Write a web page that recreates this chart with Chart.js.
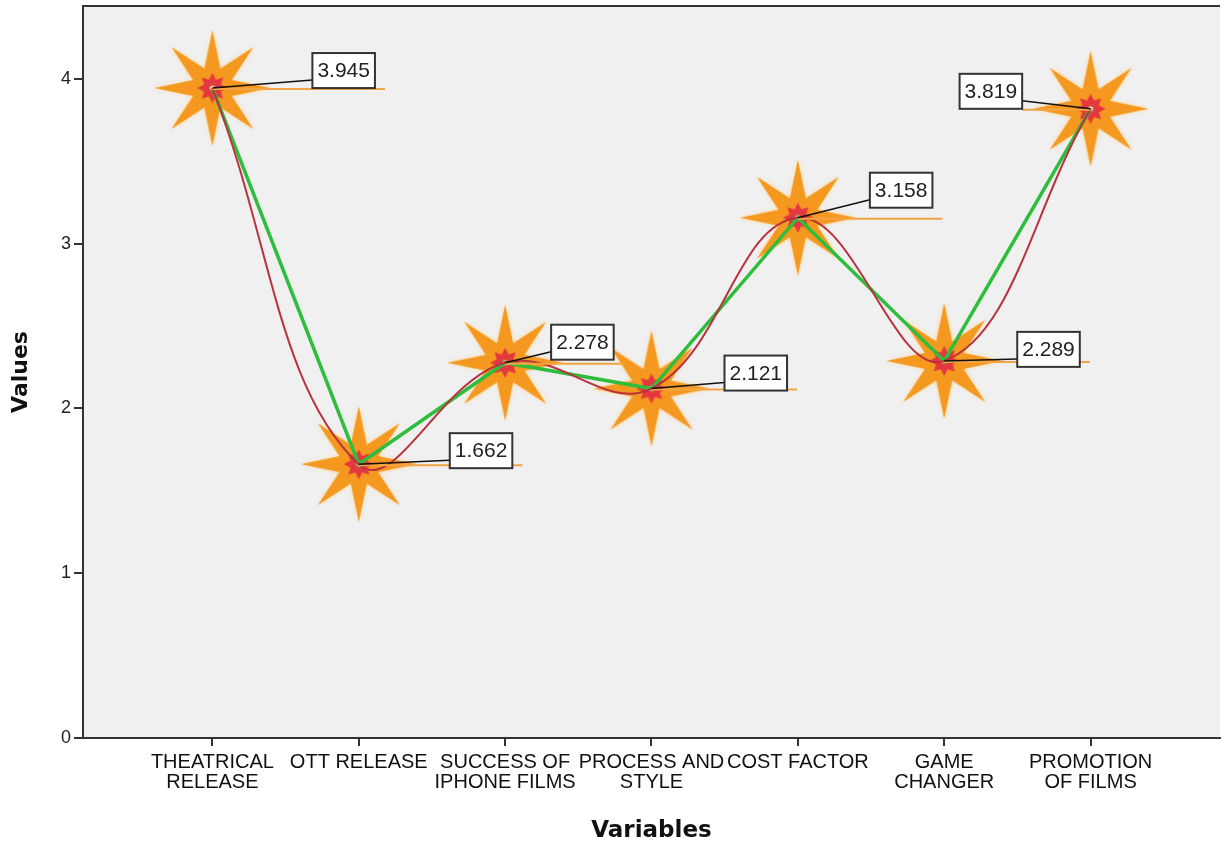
<!DOCTYPE html>
<html>
<head>
<meta charset="utf-8">
<script src="https://cdn.jsdelivr.net/npm/chart.js@4.4.1/dist/chart.umd.min.js"></script>
<style>
  body { margin: 0; background: #fff; }
  #chart { display: block; }
</style>
</head>
<body>
<canvas id="chart" width="1225" height="847"></canvas>
<script>
// data
const categories = [
  ['THEATRICAL', 'RELEASE'],
  'OTT RELEASE',
  ['SUCCESS OF', 'IPHONE FILMS'],
  ['PROCESS AND', 'STYLE'],
  'COST FACTOR',
  ['GAME', 'CHANGER'],
  ['PROMOTION', 'OF FILMS']
];
const values = [3.945, 1.662, 2.278, 2.121, 3.158, 2.289, 3.819];
const yTicks = [0, 1, 2, 3, 4];

const points = values.map((v, i) => ({ x: i, y: v }));

// star marker used as the point image
function makeStar() {
  const c = document.createElement('canvas');
  c.width = 140; c.height = 140;
  const g = c.getContext('2d');
  const cx = 70, cy = 70;
  function star(n, rOut, rIn) {
    g.beginPath();
    for (let k = 0; k < n * 2; k++) {
      const r = k % 2 === 0 ? rOut : rIn;
      const a = k * Math.PI / n - Math.PI / 2;
      const px = cx + r * Math.cos(a), py = cy + r * Math.sin(a);
      if (k === 0) g.moveTo(px, py); else g.lineTo(px, py);
    }
    g.closePath();
  }
  g.shadowColor = 'rgba(255,215,150,0.9)';
  g.shadowBlur = 4;
  star(8, 58, 21);
  g.fillStyle = '#f5981f';
  g.fill();
  g.shadowBlur = 0;
  star(8, 15, 9);
  g.fillStyle = '#e4373f';
  g.fill();
  g.beginPath();
  g.arc(cx, cy, 5, 0, Math.PI * 2);
  g.fillStyle = '#d9443c';
  g.fill();
  g.beginPath();
  g.arc(cx, cy, 2.5, 0, Math.PI * 2);
  g.fillStyle = '#f2d6c6';
  g.fill();
  return c;
}
const starImg = makeStar();

// where each value box sits, relative to its point (left, top)
const labelOffsets = [[100, -35], [91, -31], [46, -38], [73, -33], [72, -45], [73, -29], [-131, -35]];

const plotBackground = {
  id: 'plotBackground',
  beforeDraw(chart) {
    const { ctx, chartArea: a } = chart;
    ctx.save();
    ctx.fillStyle = '#f0f0f0';
    ctx.fillRect(a.left, a.top, a.right - a.left, a.bottom - a.top);
    ctx.restore();
  },
  afterDraw(chart) {
    const { ctx, chartArea: a } = chart;
    ctx.save();
    ctx.strokeStyle = '#333';
    ctx.lineWidth = 2;
    ctx.beginPath();
    ctx.moveTo(a.left - 1, a.top);
    ctx.lineTo(a.right, a.top);
    ctx.stroke();
    ctx.restore();
  }
};

const valueLabels = {
  id: 'valueLabels',
  afterDatasetsDraw(chart) {
    const { ctx } = chart;
    const meta = chart.getDatasetMeta(2);
    ctx.save();
    ctx.font = '21px "Liberation Sans", Arial, sans-serif';
    meta.data.forEach((pt, i) => {
      const text = values[i].toFixed(3);
      const w = ctx.measureText(text).width + 10;
      const h = 35;
      const bx = pt.x + labelOffsets[i][0];
      const by = pt.y + labelOffsets[i][1];
      const right = labelOffsets[i][0] > 0;
      // orange guide line
      ctx.strokeStyle = '#f3a545';
      ctx.lineWidth = 2;
      ctx.beginPath();
      ctx.moveTo(pt.x, pt.y + 1);
      ctx.lineTo(right ? bx + w + 10 : bx + w, pt.y + 1);
      ctx.stroke();
      // leader
      ctx.strokeStyle = '#111';
      ctx.lineWidth = 1.5;
      ctx.beginPath();
      ctx.moveTo(pt.x, pt.y);
      ctx.lineTo(right ? bx : bx + w, by + h - 8);
      ctx.stroke();
      // box
      ctx.fillStyle = '#fff';
      ctx.fillRect(bx, by, w, h);
      ctx.strokeStyle = '#333';
      ctx.lineWidth = 2;
      ctx.strokeRect(bx, by, w, h);
      ctx.fillStyle = '#222';
      ctx.textAlign = 'center';
      ctx.textBaseline = 'middle';
      ctx.fillText(text, bx + w / 2, by + h / 2 + 1);
    });
    ctx.restore();
  }
};

new Chart(document.getElementById('chart'), {
  type: 'line',
  data: {
    datasets: [
      {
        data: points,
        borderColor: '#b8323f',
        borderWidth: 2,
        tension: 0.4,
        pointRadius: 0,
        order: 0
      },
      {
        data: points,
        borderColor: '#2fbd3d',
        borderWidth: 3.5,
        tension: 0,
        pointRadius: 0,
        order: 1
      },
      {
        data: points,
        showLine: false,
        pointStyle: starImg,
        order: 2
      }
    ]
  },
  options: {
    responsive: false,
    animation: false,
    layout: { padding: { top: 6, right: 0, left: 0, bottom: 0 } },
    plugins: { legend: { display: false }, tooltip: { enabled: false } },
    scales: {
      x: {
        type: 'linear',
        min: -0.884,
        max: 6.884,
        afterBuildTicks(scale) { scale.ticks = categories.map((_, i) => ({ value: i })); },
        afterFit(scale) { scale.height = 109; scale.paddingLeft = 0; scale.paddingRight = 0; },
        grid: { drawOnChartArea: false, drawTicks: true, tickLength: 8, color: '#333', lineWidth: 2 },
        border: { display: true, color: '#333', width: 2 },
        ticks: {
          autoSkip: false,
          maxRotation: 0,
          padding: 6,
          color: '#111',
          font: { family: '"Liberation Sans", Arial, sans-serif', size: 20, lineHeight: 1.0 },
          callback: (v) => categories[v]
        },
        title: {
          display: true,
          text: 'Variables',
          color: '#111',
          font: { family: '"DejaVu Sans", Verdana, sans-serif', size: 23, weight: 'bold' },
          padding: { top: 0, bottom: 2 }
        }
      },
      y: {
        min: 0,
        max: 4.443,
        afterBuildTicks(scale) { scale.ticks = yTicks.map(v => ({ value: v })); },
        afterFit(scale) { scale.width = 83; scale.paddingTop = 0; scale.paddingBottom = 0; },
        grid: { drawOnChartArea: false, drawTicks: true, tickLength: 9, color: '#333', lineWidth: 2 },
        border: { display: true, color: '#333', width: 2 },
        ticks: {
          padding: 3,
          color: '#222',
          font: { family: '"Liberation Sans", Arial, sans-serif', size: 18 }
        },
        title: {
          display: true,
          text: 'Values',
          color: '#111',
          font: { family: '"DejaVu Sans", Verdana, sans-serif', size: 22, weight: 'bold' },
          padding: { top: 8, bottom: 0 }
        }
      }
    }
  },
  plugins: [plotBackground, valueLabels]
});
</script>
</body>
</html>
